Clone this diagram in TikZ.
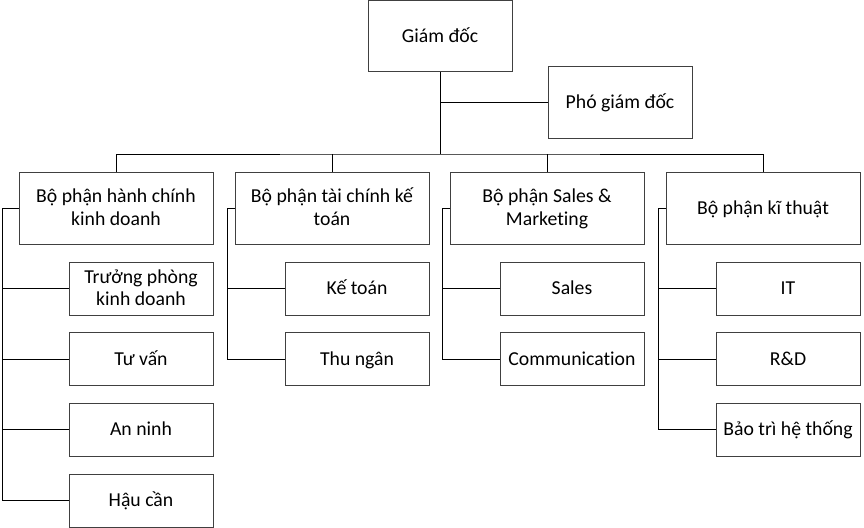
\documentclass[tikz,border=0pt]{standalone}
\usepackage{fontspec}
\setmainfont{Carlito}[Ligatures=NoCommon]
\usetikzlibrary{positioning}
\newcommand\nodeline[1]{\smash{#1}\rule[-3.9pt]{0pt}{17pt}}

\begin{document}
\begin{tikzpicture}[x=0.75pt,y=-0.75pt,
    box/.style={draw=black!75,line width=0.75pt,align=center,inner sep=0pt,
      font=\fontsize{14.8}{17}\selectfont},
    head/.style={box,minimum width=108pt,minimum height=53.25pt},
    dept/.style={box,minimum width=145.5pt,minimum height=54pt},
    unit/.style={box,minimum width=108pt,minimum height=39.75pt},
    link/.style={line width=0.75pt}]
  \useasboundingbox (0,0) rectangle (864,528);
  \node[head] (gd) at (440,36.5) {\nodeline{Giám đốc}};
  \node[head] (pgd) at (620,102.5) {\nodeline{Phó giám đốc}};
  \node[dept] (d1) at (116,208) {\nodeline{Bộ phận hành chính}\\\nodeline{kinh doanh}};
  \node[dept] (d2) at (332,208) {\nodeline{Bộ phận tài chính kế}\\\nodeline{toán}};
  \node[dept] (d3) at (547,208) {\nodeline{Bộ phận Sales \&}\\\nodeline{Marketing}};
  \node[dept] (d4) at (763,208) {\nodeline{Bộ phận kĩ thuật}};
  \node[unit,below=12.75pt of d1.south east,anchor=north east] (u11) {\nodeline{Trưởng phòng}\\\nodeline{kinh doanh}};
  \node[unit,below=12.5pt of u11] (u12) {\nodeline{Tư vấn}};
  \node[unit,below=12.5pt of u12] (u13) {\nodeline{An ninh}};
  \node[unit,below=12.5pt of u13] (u14) {\nodeline{Hậu cần}};
  \node[unit,below=12.75pt of d2.south east,anchor=north east] (u21) {\nodeline{Kế toán}};
  \node[unit,below=12.5pt of u21] (u22) {\nodeline{Thu ngân}};
  \node[unit,below=12.75pt of d3.south east,anchor=north east] (u31) {\nodeline{Sales}};
  \node[unit,below=12.5pt of u31] (u32) {\nodeline{Communication}};
  \node[unit,below=12.75pt of d4.south east,anchor=north east] (u41) {\nodeline{IT}};
  \node[unit,below=12.5pt of u41] (u42) {\nodeline{R\&D}};
  \node[unit,below=12.5pt of u42] (u43) {\nodeline{Bảo trì hệ thống}};
  \coordinate (bus) at (440,154);
  \coordinate (s1) at (2,208);
  \coordinate (s2) at (227,208);
  \coordinate (s3) at (442,208);
  \coordinate (s4) at (658,208);
  \draw[link] (gd.south) |- (pgd.west);
  \draw[link] (gd.south) -- (bus);
  \draw[link] (d1.north) |- (bus) -| (d4.north);
  \draw[link] (d2.north) -- (d2.north |- bus);
  \draw[link] (d3.north) -- (d3.north |- bus);
  \draw[link] (d1.west) -- (s1) |- (u14.west);
  \draw[link] (d2.west) -- (s2) |- (u22.west);
  \draw[link] (d3.west) -- (s3) |- (u32.west);
  \draw[link] (d4.west) -- (s4) |- (u43.west);
  \foreach \u/\s in {u11/s1,u12/s1,u13/s1,u21/s2,u31/s3,u41/s4,u42/s4}
    \draw[link] (\u.west) -- (\u.west -| \s);
\end{tikzpicture}
\end{document}
